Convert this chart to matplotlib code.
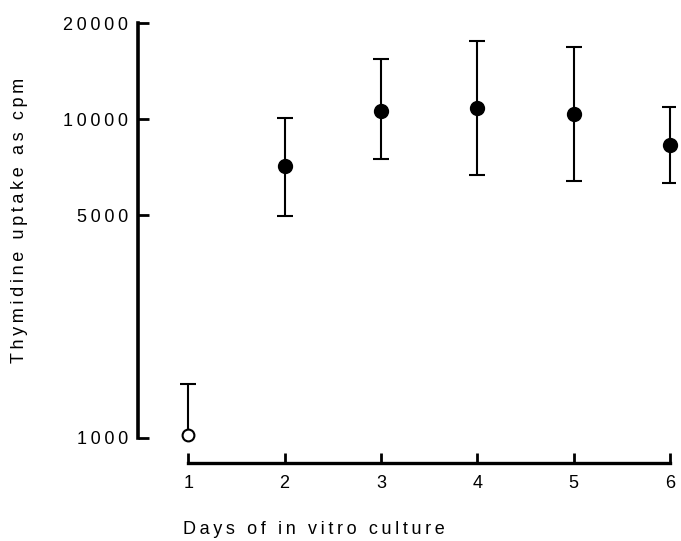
import numpy as np
import matplotlib
matplotlib.use("Agg")
import matplotlib.pyplot as plt
from matplotlib.ticker import FixedLocator, FixedFormatter, NullLocator

# values
days = [1, 2, 3, 4, 5, 6]
uptake = [1020, 7100, 10600, 10800, 10400, 8300]
upper = [1480, 10100, 15400, 17500, 16800, 10900]
lower = [1020, 4970, 7500, 6700, 6400, 6300]
open_marker = [True, False, False, False, False, False]

y_ticks = [1000, 5000, 10000, 20000]
y_tick_labels = ['1000', '5000', '10000', '20000']
x_tick_labels = ['1', '2', '3', '4', '5', '6']

FONT = ['Liberation Sans', 'DejaVu Sans']
FS = 13


def spaced(text):
    # typewriter-like letter spacing of the original figure
    return '\u2009'.join(text)


fig = plt.figure(figsize=(6.81, 5.41), dpi=100)
ax = fig.add_axes([138 / 681, 1 - 438 / 541, 537 / 681, (438 - 23) / 541])

ax.set_yscale('log')
ax.set_ylim(1000, 20000)
ax.set_xlim(0.48, 6.05)

for d, v, hi, lo, is_open in zip(days, uptake, upper, lower, open_marker):
    err = [[v - lo], [hi - v]]
    _, caps, _ = ax.errorbar([d], [v], yerr=err, fmt='none', ecolor='black',
                             elinewidth=1.5, capsize=5.5, capthick=1.5, zorder=2)
    if is_open:
        # only the upper half of the bar is drawn for day 1
        caps[0].set_visible(False)
    ax.plot([d], [v], 'o', ms=9.5 if not is_open else 8.5,
            mfc='white' if is_open else 'black', mec='black', mew=1.5,
            zorder=3, clip_on=False)

# axes styling
for side in ['top', 'right']:
    ax.spines[side].set_visible(False)
ax.spines['left'].set_linewidth(2.6)
ax.spines['bottom'].set_linewidth(2.4)
ax.spines['bottom'].set_position(('outward', 18))
ax.spines['bottom'].set_bounds(1, 6)

ax.yaxis.set_major_locator(FixedLocator(y_ticks))
ax.yaxis.set_major_formatter(FixedFormatter([spaced(t) for t in y_tick_labels]))
ax.yaxis.set_minor_locator(NullLocator())
ax.set_xticks(days)
ax.set_xticklabels(x_tick_labels)

ax.tick_params(axis='y', direction='in', length=8, width=2, pad=7,
               labelsize=FS)
ax.tick_params(axis='x', direction='in', length=7, width=2, pad=9,
               labelsize=FS)
for lab in ax.get_xticklabels() + ax.get_yticklabels():
    lab.set_family(FONT)

fig.text(183 / 681, 1 - 530 / 541, spaced('Days of in vitro culture'),
         ha='left', va='center', fontsize=FS, family=FONT)
fig.text(20 / 681, 1 - 220 / 541, spaced('Thymidine uptake as cpm'),
         ha='center', va='center', rotation=90, fontsize=FS, family=FONT)

fig.savefig('out.png', dpi=100)
